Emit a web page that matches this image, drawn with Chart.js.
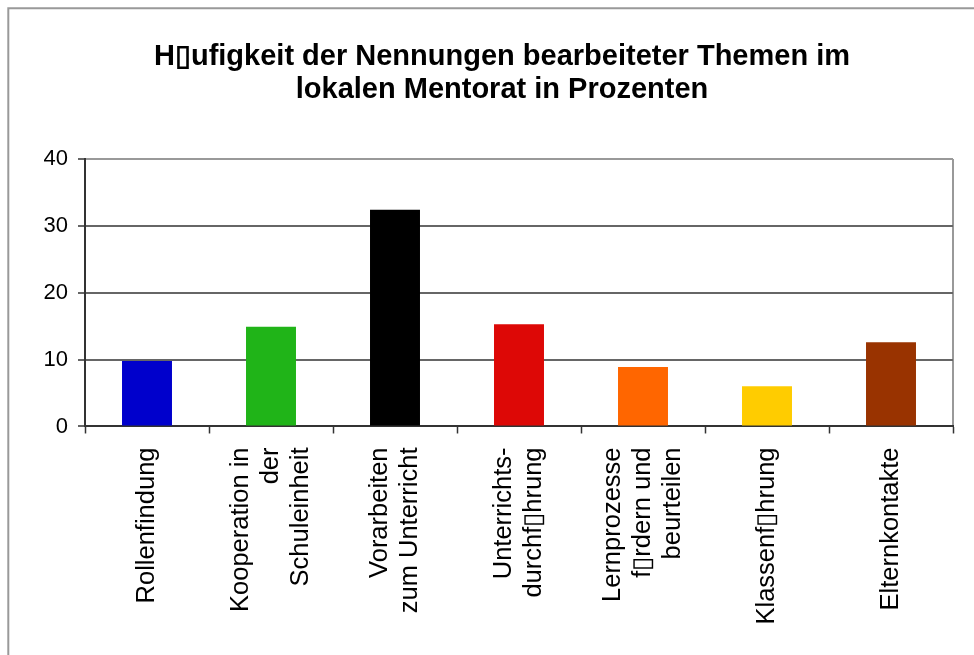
<!DOCTYPE html>
<html>
<head>
<meta charset="utf-8">
<script src="https://cdn.jsdelivr.net/npm/chart.js@4/dist/chart.umd.min.js"></script>
<style>
  html, body { margin: 0; padding: 0; background: #fff; }
  canvas { display: block; }
</style>
</head>
<body>
<canvas id="themen" width="974" height="655"></canvas>
<script>
// data
var titleLines = ['H\u25AFufigkeit der Nennungen bearbeiteter Themen im', 'lokalen Mentorat in Prozenten']
var categories = [
  ['Rollenfindung'],
  ['Kooperation in', 'der', 'Schuleinheit'],
  ['Vorarbeiten', 'zum Unterricht'],
  ['Unterrichts-', 'durchf\u25AFhrung'],
  ['Lernprozesse', 'f\u25AFrdern und', 'beurteilen'],
  ['Klassenf\u25AFhrung'],
  ['Elternkontakte']
]
var values = [9.8, 14.9, 32.4, 15.3, 8.9, 6.0, 12.6]
var barColors = ['#0000CC', '#20B418', '#000000', '#DD0806', '#FF6600', '#FFCC00', '#993300']
var yTicks = [0, 10, 20, 30, 40]

var FONT = "'Liberation Sans', Arial, sans-serif"
var HALF_LINE = 15

// pad each label to a block centred on its tick (lines are spaced by two half-lines)
function centredLines(lines) {
  var out = []
  for (var k = 0; k < 3 - lines.length; k++) out.push('')
  lines.forEach(function (l, j) {
    if (j) out.push('')
    out.push(l)
  })
  return out
}

// grey frame of the chart object and right edge of the plot area
var frame = {
  id: 'frame',
  afterLayout: function (chart) {
    // y labels hang out left of the narrowed axis box, widen its clip area
    chart.scales.y.left -= 24
  },
  beforeDraw: function (chart) {
    var ctx = chart.ctx
    ctx.save()
    ctx.strokeStyle = '#999'
    ctx.lineWidth = 2
    ctx.beginPath()
    ctx.moveTo(8.3, chart.height)
    ctx.lineTo(8.3, 8.3)
    ctx.lineTo(chart.width, 8.3)
    ctx.stroke()
    var a = chart.chartArea
    ctx.beginPath()
    ctx.moveTo(a.right, a.top)
    ctx.lineTo(a.right, a.bottom)
    ctx.stroke()
    ctx.restore()
  }
}

var ctx = document.getElementById('themen').getContext('2d')

new Chart(ctx, {
  type: 'bar',
  data: {
    labels: categories.map(function (c) { return c.join(' ') }),
    datasets: [{
      data: values,
      backgroundColor: barColors,
      borderWidth: 0,
      categoryPercentage: 1,
      barPercentage: 0.403
    }]
  },
  plugins: [frame],
  options: {
    responsive: false,
    animation: false,
    devicePixelRatio: 1,
    layout: { padding: { left: 51, right: 21, top: 0, bottom: 16.5 } },
    plugins: {
      legend: { display: false },
      tooltip: { enabled: false },
      title: {
        display: true,
        text: titleLines,
        color: '#000',
        font: { family: FONT, size: 29, weight: 'bold', lineHeight: '33px' },
        padding: { top: 40, bottom: 53 }
      }
    },
    scales: {
      x: {
        border: { color: '#333', width: 2 },
        grid: { drawOnChartArea: false, tickLength: 7, tickColor: '#333', tickWidth: 1.5 },
        ticks: {
          autoSkip: false,
          minRotation: 90,
          maxRotation: 90,
          padding: 14,
          labelOffset: -2 * HALF_LINE,
          color: '#000',
          font: { family: FONT, size: 25.5, lineHeight: HALF_LINE + 'px' },
          callback: function (v, i) { return centredLines(categories[i]) }
        }
      },
      y: {
        min: 0,
        max: 40,
        border: { color: '#333', width: 2 },
        grid: {
          color: function (c) { return c.tick && c.tick.value === 40 ? '#999' : '#666' },
          lineWidth: 2,
          tickLength: 7,
          tickColor: '#333',
          tickWidth: 1.5
        },
        afterBuildTicks: function (axis) {
          axis.ticks = yTicks.map(function (v) { return { value: v } })
        },
        afterFit: function (axis) { axis.width = 34 },
        ticks: {
          padding: 10,
          color: '#000',
          font: { family: FONT, size: 22 }
        }
      }
    }
  }
})
</script>
</body>
</html>
